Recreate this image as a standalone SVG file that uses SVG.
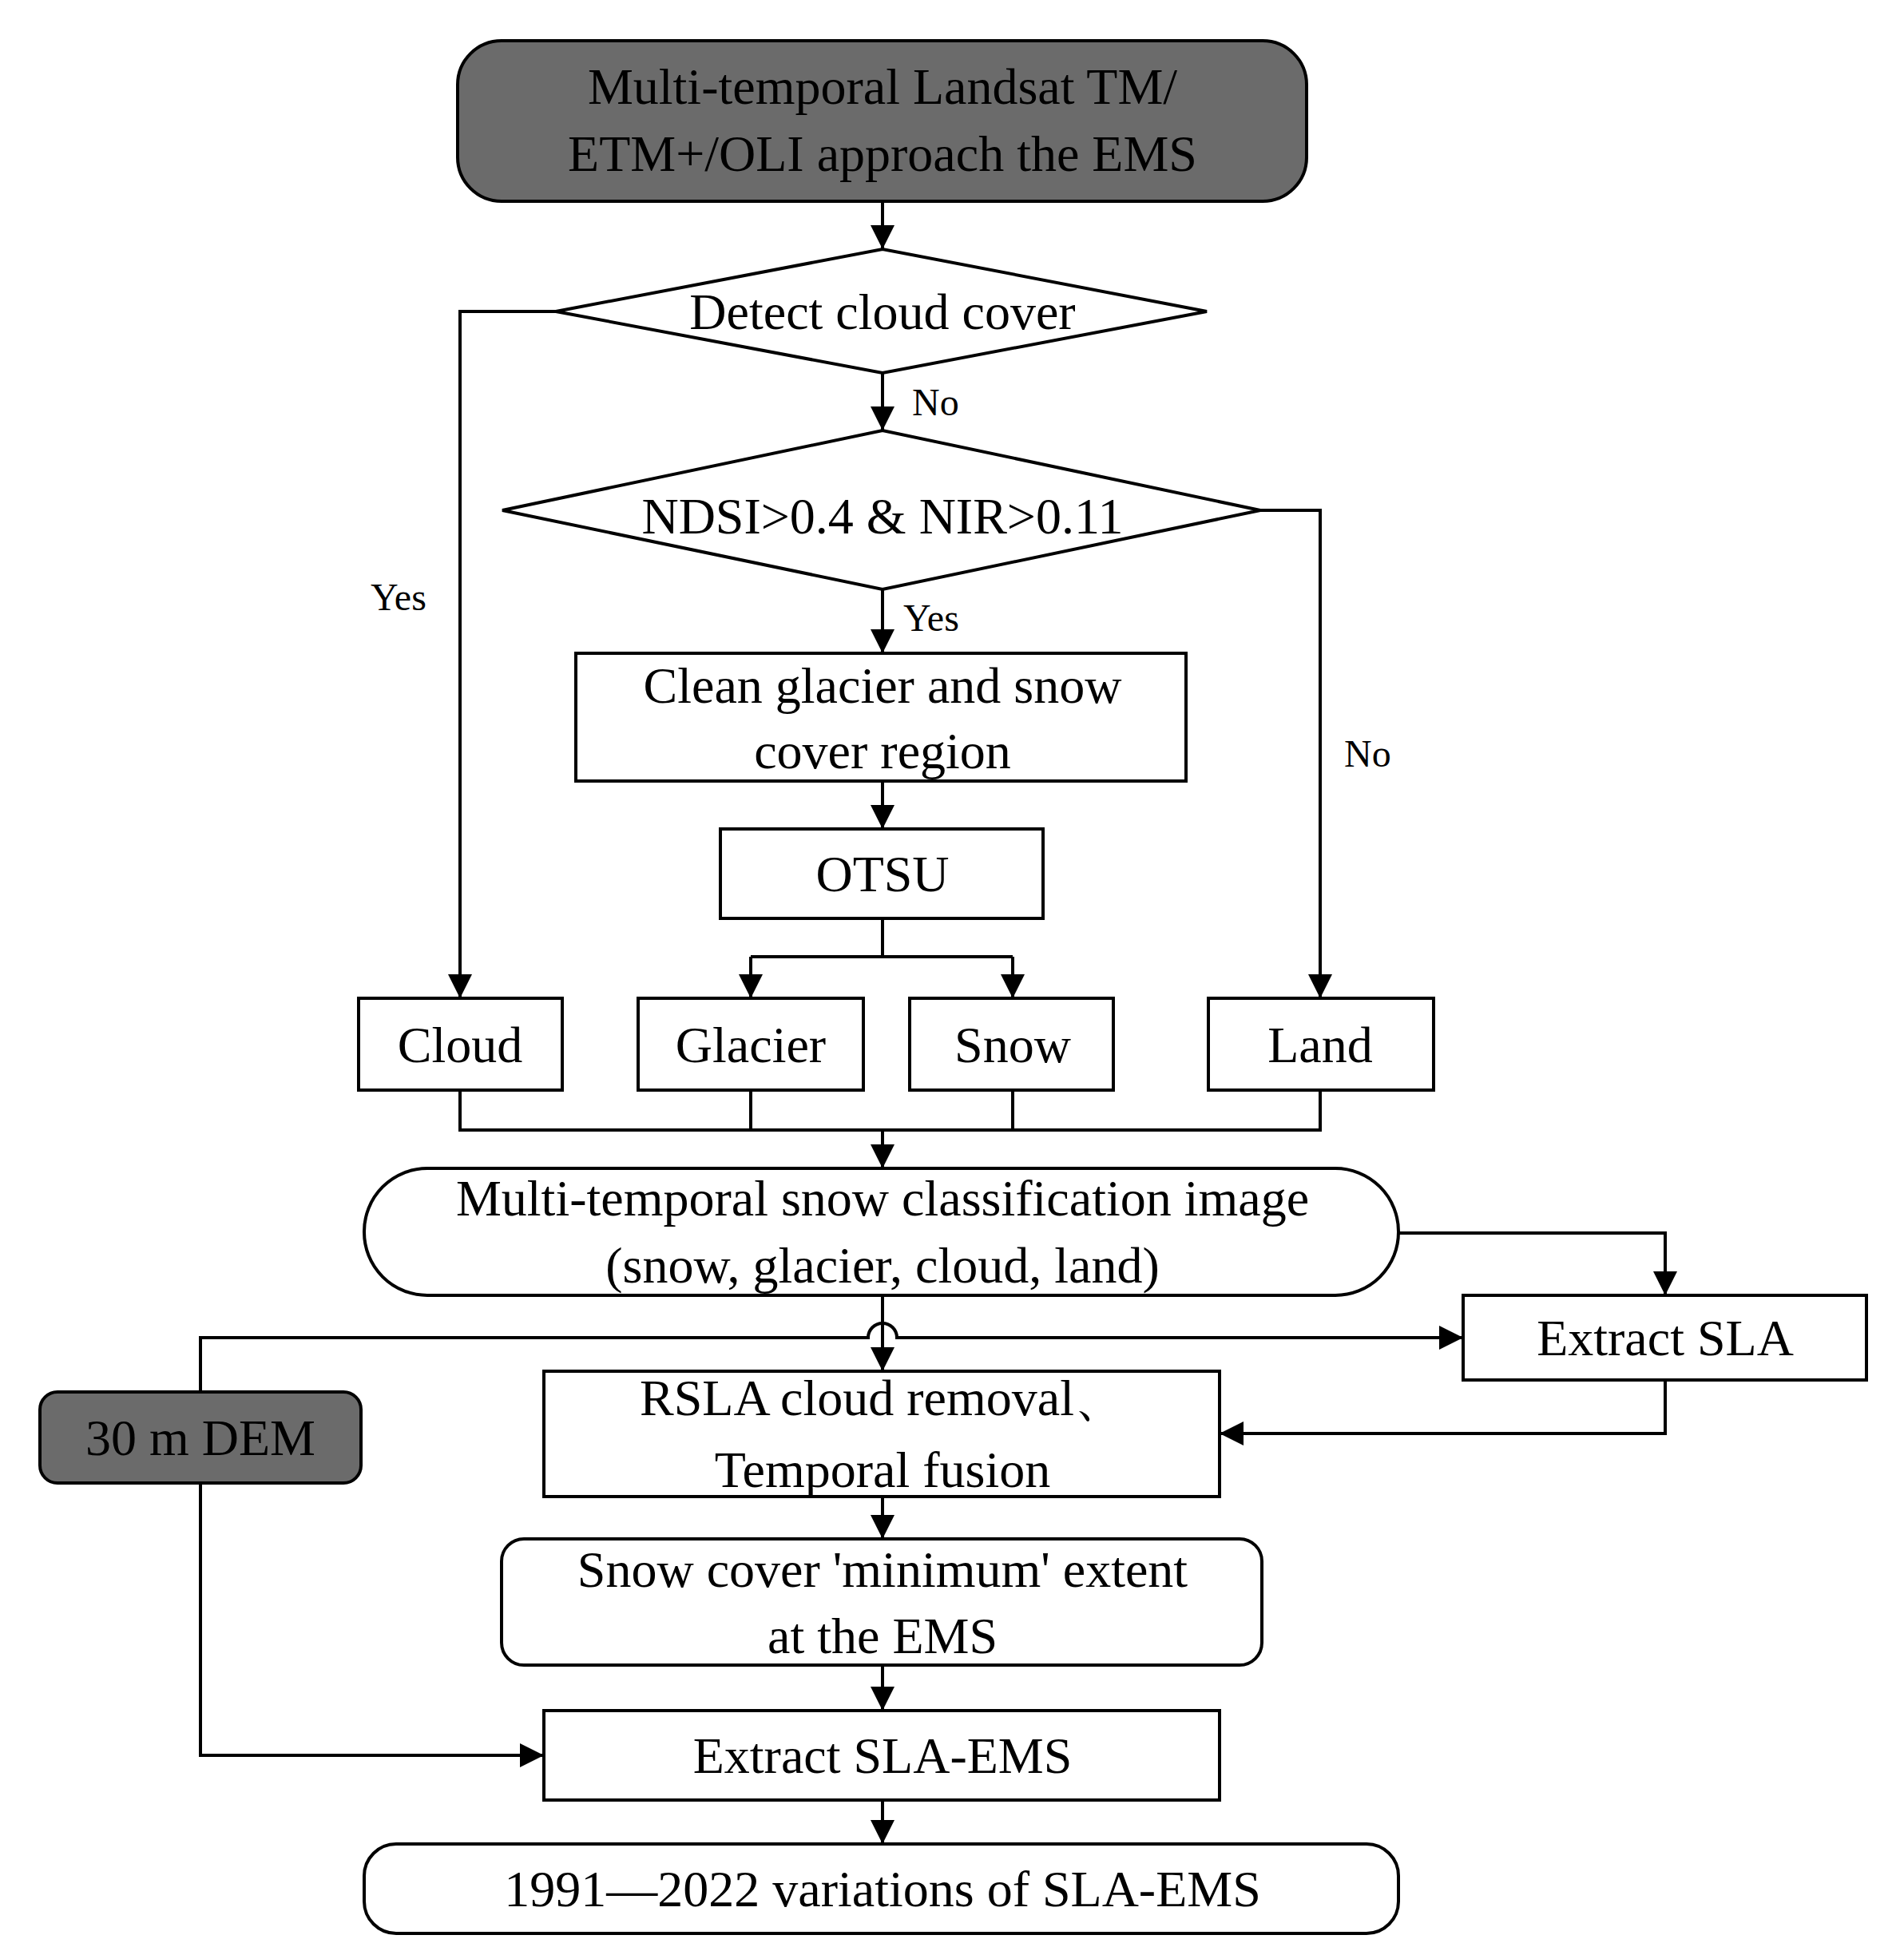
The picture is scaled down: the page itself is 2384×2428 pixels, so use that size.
<svg xmlns="http://www.w3.org/2000/svg" width="2384" height="2428" viewBox="0 0 2384 2428">
<style>
.b{fill:#fff;stroke:#000;stroke-width:4}
.g{fill:#6b6b6b;stroke:#000;stroke-width:4}
.t{font-family:"Liberation Serif",serif;font-size:64px;text-anchor:middle;fill:#000}
.l{font-family:"Liberation Serif",serif;font-size:48px;fill:#000}
.c{fill:none;stroke:#000;stroke-width:4}
</style>
<defs><marker id="a" markerWidth="10" markerHeight="10" refX="9" refY="5" orient="auto" markerUnits="userSpaceOnUse" viewBox="0 0 10 10"><path d="M0,0L10,5L0,10Z" fill="#000"/></marker>
<marker id="A" viewBox="0 0 10 10" refX="10" refY="5" markerWidth="32" markerHeight="30" orient="auto" markerUnits="userSpaceOnUse"><path d="M0,0L10,5L0,10Z" fill="#000"/></marker></defs>
<rect width="2384" height="2428" fill="#fff"/>
<g id="connectors">
<path class="c" d="M1105,252V312" marker-end="url(#A)"/>
<path class="c" d="M696,390H576V1250" marker-end="url(#A)"/>
<path class="c" d="M1105,467V539" marker-end="url(#A)"/>
<path class="c" d="M1578,639H1653V1250" marker-end="url(#A)"/>
<path class="c" d="M1105,738V818" marker-end="url(#A)"/>
<path class="c" d="M1105,978V1038" marker-end="url(#A)"/>
<path class="c" d="M1105,1150V1198"/>
<path class="c" d="M940,1198H1268"/>
<path class="c" d="M940,1198V1250" marker-end="url(#A)"/>
<path class="c" d="M1268,1198V1250" marker-end="url(#A)"/>
<path class="c" d="M576,1365V1415H1653V1365M940,1365V1415M1268,1365V1415"/>
<path class="c" d="M1105,1415V1463" marker-end="url(#A)"/>
<path class="c" d="M1751,1544H2085V1622" marker-end="url(#A)"/>
<path class="c" d="M1105,1622V1717" marker-end="url(#A)"/>
<path class="c" d="M251,1743V1675H1087A18,18 0 0 1 1123,1675H1832" marker-end="url(#A)"/>
<path class="c" d="M2085,1728V1795H1527" marker-end="url(#A)"/>
<path class="c" d="M1105,1874V1927" marker-end="url(#A)"/>
<path class="c" d="M1105,2085V2142" marker-end="url(#A)"/>
<path class="c" d="M251,1857V2198H681" marker-end="url(#A)"/>
<path class="c" d="M1105,2254V2309" marker-end="url(#A)"/>
</g>
<g id="n-input"><rect class="g" x="573" y="51" width="1063" height="201" rx="55"/><text class="t" x="1105" y="130">Multi-temporal Landsat TM/</text><text class="t" x="1105" y="214">ETM+/OLI approach the EMS</text></g>
<g id="n-cloudcheck"><polygon class="b" points="696,390 1105,312 1511,390 1105,467"/><text class="t" x="1105" y="412">Detect cloud cover</text></g>
<text class="l" x="1142" y="520">No</text>
<g id="n-ndsi"><polygon class="b" points="629,639 1105,539 1578,639 1105,738"/><text class="t" x="1105" y="668">NDSI&gt;0.4 &amp; NIR&gt;0.11</text></g>
<text class="l" x="464" y="764">Yes</text>
<text class="l" x="1131" y="790">Yes</text>
<text class="l" x="1683" y="960">No</text>
<g id="n-clean"><rect class="b" x="721" y="818" width="764" height="160"/><text class="t" x="1105" y="880">Clean glacier and snow</text><text class="t" x="1105" y="962">cover region</text></g>
<g id="n-otsu"><rect class="b" x="902" y="1038" width="404" height="112"/><text class="t" x="1105" y="1116">OTSU</text></g>
<g id="n-cloud"><rect class="b" x="449" y="1250" width="255" height="115"/><text class="t" x="576" y="1330">Cloud</text></g>
<g id="n-glacier"><rect class="b" x="799" y="1250" width="282" height="115"/><text class="t" x="940" y="1330">Glacier</text></g>
<g id="n-snow"><rect class="b" x="1139" y="1250" width="255" height="115"/><text class="t" x="1268" y="1330">Snow</text></g>
<g id="n-land"><rect class="b" x="1513" y="1250" width="282" height="115"/><text class="t" x="1653" y="1330">Land</text></g>
<g id="n-class"><rect class="b" x="456" y="1463" width="1295" height="159" rx="79"/><text class="t" x="1105" y="1522">Multi-temporal snow classification image</text><text class="t" x="1105" y="1606">(snow, glacier, cloud, land)</text></g>
<g id="n-sla"><rect class="b" x="1832" y="1622" width="505" height="106"/><text class="t" x="2085" y="1697">Extract SLA</text></g>
<g id="n-dem"><rect class="g" x="50" y="1743" width="402" height="114" rx="22"/><text class="t" x="251" y="1822">30 m DEM</text></g>
<g id="n-rsla"><rect class="b" x="681" y="1717" width="846" height="157"/><text class="t" x="1105" y="1772">RSLA cloud removal、</text><text class="t" x="1105" y="1862">Temporal fusion</text></g>
<g id="n-min"><rect class="b" x="628" y="1927" width="952" height="158" rx="28"/><text class="t" x="1105" y="1987">Snow cover 'minimum' extent</text><text class="t" x="1105" y="2070">at the EMS</text></g>
<g id="n-slaems"><rect class="b" x="681" y="2142" width="846" height="112"/><text class="t" x="1105" y="2220">Extract SLA-EMS</text></g>
<g id="n-var"><rect class="b" x="456" y="2309" width="1295" height="112" rx="40"/><text class="t" x="1105" y="2387">1991—2022 variations of SLA-EMS</text></g>
</svg>
